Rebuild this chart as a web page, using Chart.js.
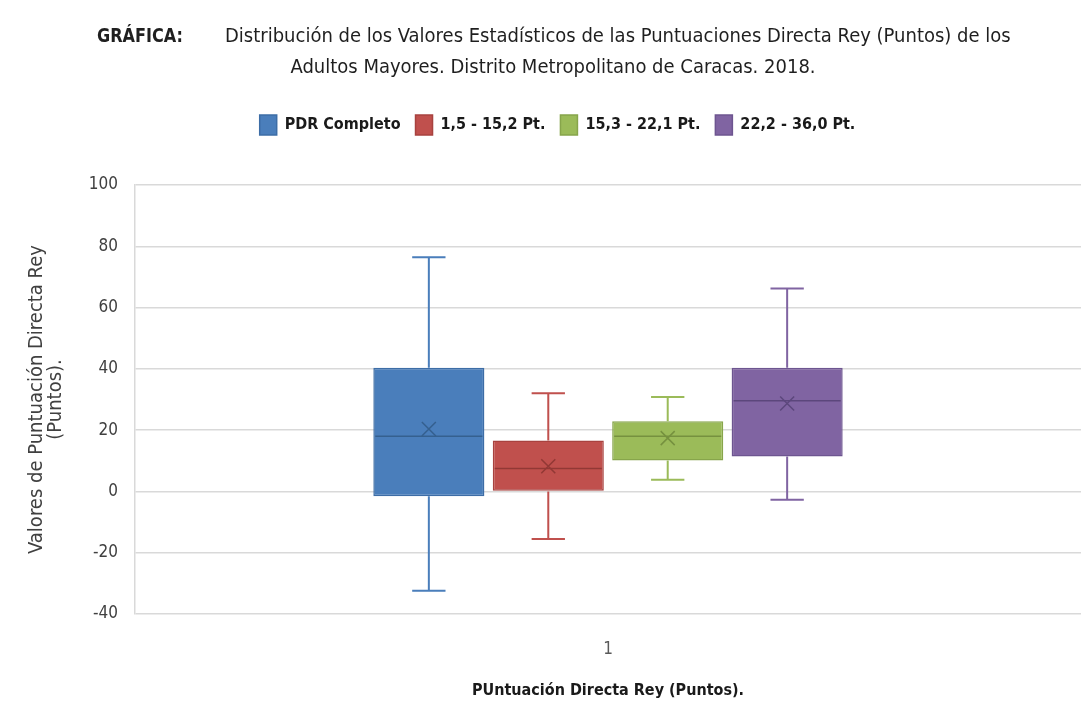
<!DOCTYPE html>
<html>
<head>
<meta charset="utf-8">
<script src="https://cdn.jsdelivr.net/npm/chart.js@4.4.1/dist/chart.umd.min.js"></script>
<style>
  html, body { margin: 0; padding: 0; background: #ffffff; }
  #wrap { width: 1090px; height: 714px; position: relative; }
</style>
</head>
<body>
<div id="wrap"><canvas id="chart" width="1090" height="714"></canvas></div>
<script>
// Box-plot statistics per group (Puntuación Directa Rey, in points)
const categories   = ['1'];
const seriesNames  = ['PDR Completo', '1,5 - 15,2 Pt.', '15,3 - 22,1 Pt.', '22,2 - 36,0 Pt.'];
const minValues    = [-32.4, -15.5,  3.8, -2.7];
const q1Values     = [ -1.6,   0.0, 10.1, 11.4];
const medianValues = [ 18.0,   7.5, 18.0, 29.6];
const q3Values     = [ 40.4,  16.6, 22.9, 40.4];
const maxValues    = [ 76.4,  32.0, 30.8, 66.2];
const meanValues   = [ 20.4,   8.2, 17.4, 28.7];
const yTickValues  = [-40, -20, 0, 20, 40, 60, 80, 100];

const fillColors   = ['#4a7ebb', '#c0504d', '#9bbb59', '#8064a2'];
const edgeColors   = ['#3d6da6', '#a8423f', '#87a54b', '#6d5590'];
const inkColors    = ['#35608f', '#923835', '#76913f', '#5c477c'];

const FONT = "'Liberation Sans Narrow', 'DejaVu Sans Condensed', Lato, sans-serif";

// Whiskers, caps, median line and mean marker drawn on top of each floating bar
const boxPlotPlugin = {
  id: 'boxPlot',
  afterDatasetsDraw(chart) {
    const { ctx } = chart;
    const yScale = chart.scales.y;
    chart.data.datasets.forEach((ds, i) => {
      const meta = chart.getDatasetMeta(i);
      if (meta.hidden) return;
      meta.data.forEach((bar) => {
        const cx = bar.x;
        const half = bar.width / 2;
        const capHalf = bar.width * 0.15;
        const pMin = yScale.getPixelForValue(minValues[i]);
        const pQ1 = yScale.getPixelForValue(q1Values[i]);
        const pMed = yScale.getPixelForValue(medianValues[i]);
        const pQ3 = yScale.getPixelForValue(q3Values[i]);
        const pMax = yScale.getPixelForValue(maxValues[i]);
        const pMean = yScale.getPixelForValue(meanValues[i]);
        ctx.save();
        ctx.strokeStyle = fillColors[i];
        ctx.lineWidth = 2;
        ctx.beginPath();
        ctx.moveTo(cx, pQ3); ctx.lineTo(cx, pMax);
        ctx.moveTo(cx - capHalf, pMax); ctx.lineTo(cx + capHalf, pMax);
        ctx.moveTo(cx, pQ1); ctx.lineTo(cx, pMin);
        ctx.moveTo(cx - capHalf, pMin); ctx.lineTo(cx + capHalf, pMin);
        ctx.stroke();
        // median
        ctx.strokeStyle = inkColors[i];
        ctx.lineWidth = 1.5;
        ctx.beginPath();
        ctx.moveTo(cx - half + 2, pMed); ctx.lineTo(cx + half - 2, pMed);
        ctx.stroke();
        // mean (x marker)
        const m = 7;
        ctx.beginPath();
        ctx.moveTo(cx - m, pMean - m); ctx.lineTo(cx + m, pMean + m);
        ctx.moveTo(cx - m, pMean + m); ctx.lineTo(cx + m, pMean - m);
        ctx.stroke();
        ctx.restore();
      });
    });
  }
};

// Heading above the legend
const headingPlugin = {
  id: 'heading',
  beforeDraw(chart) {
    const { ctx } = chart;
    ctx.save();
    ctx.fillStyle = '#1f1f1f';
    ctx.textBaseline = 'middle';
    ctx.textAlign = 'left';
    ctx.font = "bold 19px " + FONT;
    ctx.fillText('GRÁFICA:', 97, 37, 86);
    ctx.font = "20px " + FONT;
    ctx.fillText('Distribución de los Valores Estadísticos de las Puntuaciones Directa Rey (Puntos) de los', 225, 37, 788);
    ctx.textAlign = 'center';
    ctx.fillText('Adultos Mayores. Distrito Metropolitano de Caracas. 2018.', 553, 68, 536);
    ctx.restore();
  }
};

const datasets = seriesNames.map((name, i) => ({
  label: name,
  data: categories.map(() => [q1Values[i], q3Values[i]]),
  backgroundColor: fillColors[i],
  borderColor: edgeColors[i],
  borderWidth: 1.5,
  borderSkipped: false
}));

new Chart(document.getElementById('chart'), {
  type: 'bar',
  data: { labels: categories, datasets },
  plugins: [headingPlugin, boxPlotPlugin],
  options: {
    responsive: false,
    animation: false,
    categoryPercentage: 0.505,
    barPercentage: 0.93,
    layout: { padding: { top: 100, right: 9, left: 34, bottom: 0 } },
    plugins: {
      tooltip: { enabled: false },
      legend: {
        position: 'top',
        labels: {
          boxWidth: 17,
          boxHeight: 20,
          padding: 15,
          color: '#1a1a1a',
          font: { family: FONT, size: 16, weight: 'bold' }
        }
      },
      // blank spacer between the legend and the plot area
      title: {
        display: true,
        text: ' ',
        position: 'top',
        weight: 100,
        padding: 0,
        font: { size: 40, lineHeight: 1 }
      }
    },
    scales: {
      x: {
        grid: { display: false },
        border: { display: false },
        ticks: { color: '#595959', padding: 17, font: { family: FONT, size: 17 } },
        title: {
          display: true,
          text: 'PUntuación Directa Rey (Puntos).',
          color: '#1a1a1a',
          padding: { top: 4, bottom: 14 },
          font: { family: FONT, size: 16, weight: 'bold' }
        },
        afterFit(scale) { scale.height = 100; }
      },
      y: {
        min: yTickValues[0],
        max: yTickValues[yTickValues.length - 1],
        afterBuildTicks(scale) { scale.ticks = yTickValues.map(v => ({ value: v })); },
        grid: { color: '#d9d9d9', lineWidth: 1.5, drawTicks: false },
        border: { display: true, color: '#d9d9d9', width: 1.5 },
        ticks: { color: '#404040', padding: 17, font: { family: FONT, size: 17 } },
        title: {
          display: true,
          text: ['Valores de Puntuación Directa Rey', '(Puntos).'],
          color: '#404040',
          padding: { top: -6.5 },
          font: { family: FONT, size: 20, lineHeight: 0.95 }
        },
        afterFit(scale) { scale.width = 101; }
      }
    }
  }
});
</script>
</body>
</html>
